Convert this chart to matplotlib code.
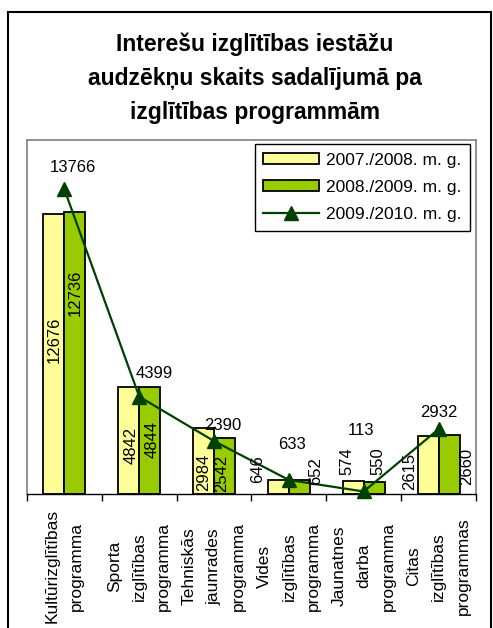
import numpy as np
import matplotlib.pyplot as plt
from matplotlib.patches import Rectangle

plt.rcParams['font.family'] = ['Liberation Sans', 'DejaVu Sans']

# data
categories = [
    "Kultūrizglītības\nprogramma",
    "Sporta\nizglītības\nprogramma",
    "Tehniskās\njaunrades\nprogramma",
    "Vides\nizglītības\nprogramma",
    "Jaunatnes\ndarba\nprogramma",
    "Citas\nizglītības\nprogrammas",
]
series_names = ["2007./2008. m. g.", "2008./2009. m. g.", "2009./2010. m. g."]
values_0708 = [12676, 4842, 2984, 646, 574, 2615]
values_0809 = [12736, 4844, 2542, 652, 550, 2660]
values_0910 = [13766, 4399, 2390, 633, 113, 2932]

# label offsets in pixels (from bar top / line point), picked to match the original
off_0708 = [(0, -126), (2, -59), (0, -44), (-21, 11), (-6, 20), (-18, -35)]
off_0809 = [(0, -81), (2, -53), (-3, -36), (16, 9), (4, 21), (18, -31)]
off_0910 = [(8, 22), (15, 23), (9, 16), (3, 35), (-3, 61), (0, 17)]

yellow = '#FFFF99'
green = '#99CC00'
dark = '#004000'

fig = plt.figure(figsize=(4.93, 6.28), dpi=100)
W, H = 493, 628
ax = fig.add_axes([27 / W, 1 - 494 / H, (476 - 27) / W, (494 - 140) / H])

x = np.arange(len(categories)) + 0.5
w = 0.28
bars1 = ax.bar(x - w / 2, values_0708, w, color=yellow, edgecolor='black', linewidth=1.3, zorder=2)
bars2 = ax.bar(x + w / 2, values_0809, w, color=green, edgecolor='black', linewidth=1.3, zorder=2)
line, = ax.plot(x, values_0910, color=dark, lw=1.6, marker='^', markersize=10, zorder=5,
                clip_on=False)

for i in range(len(x)):
    ax.annotate(str(values_0708[i]), (x[i] - w / 2, values_0708[i]), xytext=off_0708[i],
                textcoords='offset pixels', rotation=90, ha='center', va='center', fontsize=12, zorder=6)
    ax.annotate(str(values_0809[i]), (x[i] + w / 2, values_0809[i]), xytext=off_0809[i],
                textcoords='offset pixels', rotation=90, ha='center', va='center', fontsize=12, zorder=6)
    ax.annotate(str(values_0910[i]), (x[i], values_0910[i]), xytext=off_0910[i],
                textcoords='offset pixels', ha='center', va='center', fontsize=12, zorder=6)

ax.set_xlim(0, len(categories))
ax.set_ylim(0, 16000)
ax.set_yticks([])
ax.set_xticks(x)
ax.set_xticklabels(categories)
ax.set_xticks(np.arange(len(categories) + 1), minor=True)
ax.tick_params(axis='x', which='major', length=0, pad=52)
ax.tick_params(axis='x', which='minor', length=5, width=1, direction='out')
plt.setp(ax.get_xticklabels(), rotation=90, va='center', ha='center',
         multialignment='center', linespacing=1.8, fontsize=12.5)

for s in ['left', 'top', 'right']:
    ax.spines[s].set_color('#808080')
    ax.spines[s].set_linewidth(1.2)
ax.spines['bottom'].set_color('black')
ax.spines['bottom'].set_linewidth(1)

leg = ax.legend([bars1, bars2, line], series_names, loc='upper right', bbox_to_anchor=(0.9866, 0.9887),
                borderaxespad=0, fontsize=12.5, frameon=True, fancybox=False, framealpha=1,
                handlelength=3.2, handleheight=0.6, handletextpad=0.4, labelspacing=0.7,
                borderpad=0.5, numpoints=1)
leg.get_frame().set_edgecolor('black')
leg.get_frame().set_linewidth(1)

fig.text(255 / W, 1 - 33 / H, "Interešu izglītības iestāžu\naudzēkņu skaits sadalījumā pa\nizglītības programmām",
         ha='center', va='top', fontsize=16.5, fontweight='bold', linespacing=1.6)

# outer chart border
fig.patches.append(Rectangle((8 / W, -0.05), (491 - 8) / W, 1.05 - 12 / H, transform=fig.transFigure,
                             fill=False, edgecolor='black', linewidth=1.5))

fig.savefig('out.png', dpi=100)
